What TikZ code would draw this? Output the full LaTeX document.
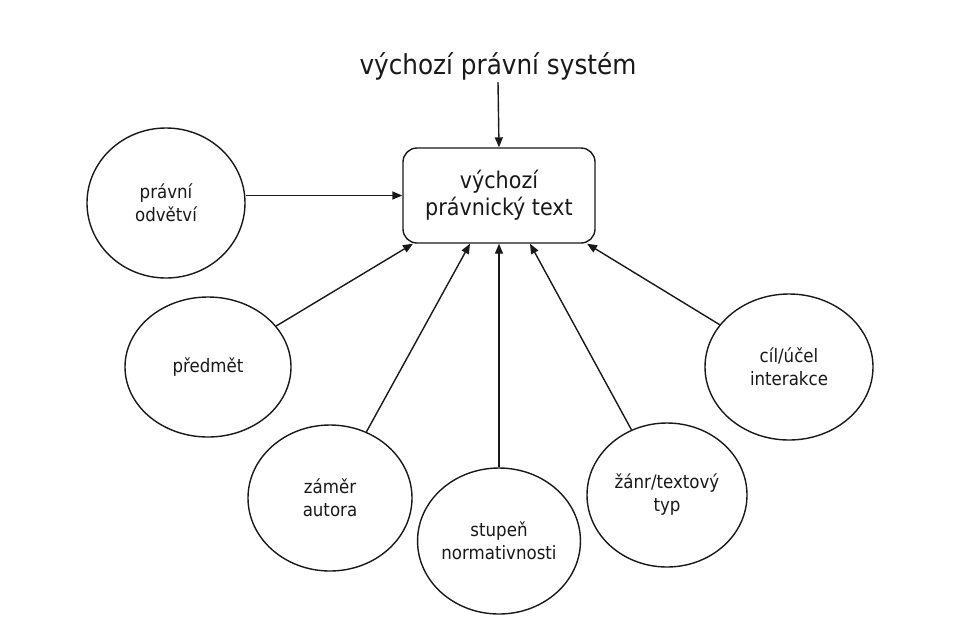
\documentclass[tikz,border=0pt]{standalone}
\usepackage{fontspec}
\setmainfont{DejaVu Sans Condensed}
\usetikzlibrary{arrows.meta,shapes.geometric,calc}
\tikzset{
  oval/.style={draw, ellipse, line width=1.4pt, inner sep=0pt, align=center,
    font=\fontsize{18.5}{23}\selectfont, text=black!90, draw=black!90},
  mainbox/.style={draw=black!90, rounded corners=14pt, line width=1.4pt, align=center,
    font=\fontsize{23}{27}\selectfont, text=black!90},
  arr/.style={line width=1.4pt, -{Triangle[length=10pt,width=8pt]}, color=black!90}
}
\begin{document}
\begin{tikzpicture}[x=1pt,y=-1pt]
\useasboundingbox[fill=white] (0,0) rectangle (961,625);
\node[font=\fontsize{27.5}{30}\selectfont, text=black!90, inner sep=2pt] (title) at (498,66) {výchozí právní systém};
\node[mainbox, minimum width=192pt, minimum height=95pt] (box) at (499,195.5) {výchozí\\právnický text};
\node[oval, minimum width=158pt, minimum height=150pt] (pravni) at (166,203) {právní\\odvětví};
\node[oval, minimum width=166pt, minimum height=140pt] (predmet) at (208,367) {předmět};
\node[oval, minimum width=164pt, minimum height=146pt] (zamer) at (330,498) {záměr\\autora};
\node[oval, minimum width=156pt, minimum height=146pt] (stupen) at (499,541) {stupeň\\normativnosti};
\node[oval, minimum width=160pt, minimum height=144pt] (zanr) at (667,495) {žánr/textový\\typ};
\node[oval, minimum width=168pt, minimum height=146pt] (cil) at (789,367) {cíl/účel\\interakce};
\coordinate (b1) at ($(box.south)+(-86,0)$);
\coordinate (b2) at ($(box.south)+(-29,0)$);
\coordinate (b4) at ($(box.south)+(31,0)$);
\coordinate (b5) at ($(box.south)+(88,0)$);
\draw[arr] (title.south) -- (box.north);
\draw[arr] (pravni.east |- box.west) -- (box.west);
\draw[arr] (predmet) -- (b1);
\draw[arr] (zamer) -- (b2);
\draw[arr] (stupen) -- (box.south);
\draw[arr] (zanr) -- (b4);
\draw[arr] (cil) -- (b5);
\end{tikzpicture}
\end{document}
